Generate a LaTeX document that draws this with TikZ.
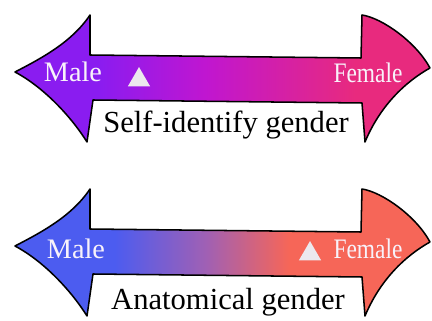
\documentclass[tikz,border=0pt]{standalone}
\usepackage{fontspec}
\setmainfont{Liberation Serif}
\usepackage{xcolor}
\definecolor{colorViolet}{RGB}{138,28,240}
\definecolor{colorMagenta}{RGB}{192,22,208}
\definecolor{colorPink}{RGB}{232,42,126}
\definecolor{colorBlue}{RGB}{76,92,240}
\definecolor{colorMauve}{RGB}{160,96,180}
\definecolor{colorSalmon}{RGB}{246,102,88}
\definecolor{colorMark}{RGB}{236,232,238}
\definecolor{colorLabel}{RGB}{248,242,250}
\usepackage{tikz}
\usetikzlibrary{shapes.geometric}

\pgfdeclarehorizontalshading{selfShading}{100bp}{color(0bp)=(colorViolet); color(35bp)=(colorViolet); color(48bp)=(colorMagenta); color(66bp)=(colorPink); color(100bp)=(colorPink)}
\pgfdeclarehorizontalshading{bodyShading}{100bp}{color(0bp)=(colorBlue); color(37bp)=(colorBlue); color(48bp)=(colorMauve); color(58bp)=(colorSalmon); color(100bp)=(colorSalmon)}

\tikzset{
  arrowline/.style={draw=black, line width=1.3pt, line join=round},
  endlabel/.style={text=colorLabel, font=\fontsize{24}{26}\selectfont, anchor=base, inner sep=0pt},
  scalelabel/.style={text=black, font=\fontsize{26}{28}\selectfont, anchor=base, inner sep=0pt},
  marker/.style={regular polygon, regular polygon sides=3, fill=colorMark, minimum size=22pt, inner sep=0pt},
}

% double headed arrow, drawn in pixel units
\newcommand{\genderArrow}[1]{%
  \shadedraw[shading=#1, arrowline]
    (90,55) -- (361,58) -- (362,15)
    .. controls (382,18) and (416,42) .. (430,68)
    .. controls (405,82) and (380,106) .. (365,142)
    -- (362,103) -- (93,100) -- (87,142)
    .. controls (72,118) and (45,88) .. (15,72)
    .. controls (42,58) and (72,42) .. (90,15) -- cycle;}

\begin{document}
\begin{tikzpicture}[x=0.85pt, y=-0.85pt]
\useasboundingbox (0,0) rectangle (432,321);

% self-identify gender
\genderArrow{selfShading}
\node[endlabel] (maleSelf) at (73,82) {Male};
\node[marker] (markSelf) at (139,80) {};
\node[endlabel] (femaleSelf) at (368,83) {\scalebox{0.83}[1]{Female}};
\node[scalelabel] (scaleSelf) at (226,133) {Self-identify gender};

% anatomical gender
\begin{scope}[shift={(0,174)}]
\genderArrow{bodyShading}
\end{scope}
\node[endlabel] (maleBody) at (76,258) {Male};
\node[marker] (markBody) at (310,254) {};
\node[endlabel] (femaleBody) at (368,258) {\scalebox{0.83}[1]{Female}};
\node[scalelabel] (scaleBody) at (228,309) {Anatomical gender};
\end{tikzpicture}
\end{document}
